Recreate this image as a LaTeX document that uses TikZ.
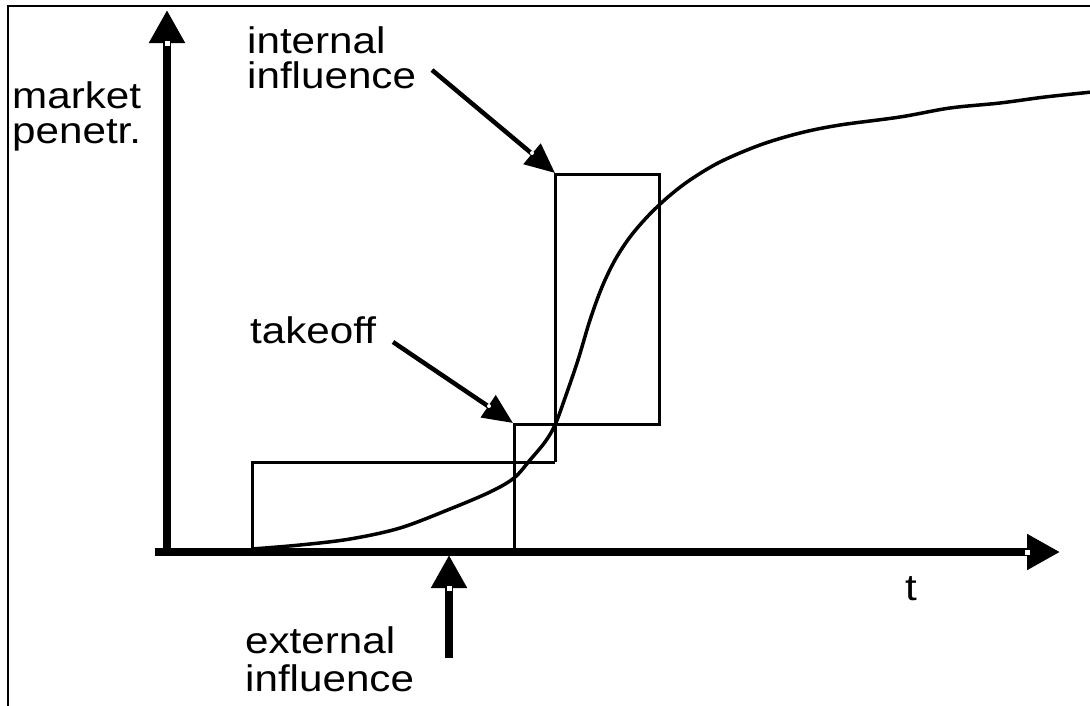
\documentclass[tikz,border=0pt]{standalone}
\usepackage{fontspec}
\setmainfont{Liberation Sans}
\usetikzlibrary{arrows.meta}
\newcommand\widetext[1]{\scalebox{1.14}[1]{#1}}
\begin{document}
\begin{tikzpicture}[x=1pt,y=-1pt,
  lbl/.style={anchor=base west,inner sep=0pt,font=\fontsize{37}{38}\selectfont},
  axisarrow/.style={line width=8pt,-{Triangle[length=33pt,width=34pt]}},
  pointer/.style={line width=4.5pt,-{Triangle[length=30pt,width=26pt]}},
  boxline/.style={line width=3pt,line join=miter},
  curveline/.style={line width=3.5pt,line join=round,line cap=round},
  notch/.style={fill=white}]
\useasboundingbox (0,0) rectangle (1090,705);
% frame
\draw[line width=2.6pt] (8,706) -- (8,6) -- (1091,6);
% coordinates
\coordinate (ybot) at (167,556);
\coordinate (ytip) at (167,10);
\coordinate (xleft) at (155,552);
\coordinate (xtip) at (1060,552);
\coordinate (extfoot) at (449,658);
\coordinate (exttip) at (449,555);
\coordinate (intstart) at (432,70);
\coordinate (inttip) at (555,173);
\coordinate (tkstart) at (393,342);
\coordinate (tktip) at (513,423);
% boxes
\draw[boxline] (252,552) -- (252,462) -- (555,462);
\draw[boxline] (514,552) -- (514,424) -- (659,424) -- (659,174) -- (555,174) -- (555,462);
% curve
\draw[curveline] plot[smooth,tension=0.55] coordinates {
 (252,549) (300,545) (350,539) (400,528) (450,509) (490,492) (514,478)
 (530,460) (545,442) (555,425) (565,398) (578,360) (590,320) (602,287)
 (615,260) (630,237) (648,216) (668,197) (690,180) (720,162) (760,145)
 (800,133) (840,125) (900,117) (950,108) (1000,103) (1045,97) (1092,92)};
% axes
\draw[axisarrow] (ybot) -- (ytip);
\draw[axisarrow] (xleft) -- (xtip);
\draw[axisarrow] (extfoot) -- (exttip);
\fill[notch] (164.5,40.5) rectangle (169.5,45.5);
\fill[notch] (1024.5,549.5) rectangle (1029.5,554.5);
\fill[notch] (446.5,585.5) rectangle (451.5,590.5);
% pointers
\draw[pointer] (intstart) -- (inttip);
\draw[pointer] (tkstart) -- (tktip);
\fill[notch] (532,153) circle (2pt);
\fill[notch] (489,406) circle (2pt);
% labels
\node[lbl] (mkt) at (12,108) {\widetext{market}};
\node[lbl] (pen) at (12,143) {\widetext{penetr.}};
\node[lbl] (int1) at (247,53) {\widetext{internal}};
\node[lbl] (int2) at (247,88) {\widetext{influence}};
\node[lbl] (tko) at (250,343) {\widetext{takeoff}};
\node[lbl] (ext1) at (245,653) {\widetext{external}};
\node[lbl] (ext2) at (245,691) {\widetext{influence}};
\node[lbl] (tlab) at (905,600) {\widetext{t}};
\end{tikzpicture}
\end{document}
